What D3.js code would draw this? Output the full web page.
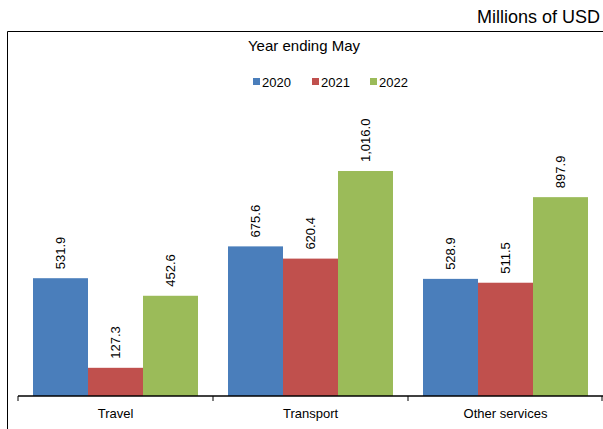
<!DOCTYPE html>
<html><head><meta charset="utf-8">
<script src="https://cdn.jsdelivr.net/npm/d3@7"></script>
<style>body{margin:0;background:#fff}text{font-family:"Liberation Sans",Arial,sans-serif}</style>
</head><body>
<svg id="chart" width="603" height="429"></svg>
<script>
var categories = ['Travel', 'Transport', 'Other services'];
var years = ['2020', '2021', '2022'];
var colors = ['#4a7ebb', '#c0504d', '#9bbb59'];
var v2020 = [531.9, 675.6, 528.9];
var v2021 = [127.3, 620.4, 511.5];
var v2022 = [452.6, 1016.0, 897.9];
var series = [v2020, v2021, v2022];

var svg = d3.select('#chart');
svg.append('text').attr('x', 600).attr('y', 23).attr('text-anchor', 'end')
    .style('font-size', '18px').text('Millions of USD');
svg.append('path').attr('d', 'M7.5,429V31.5H603').attr('fill', 'none').attr('stroke', '#000');
svg.append('text').attr('x', 304).attr('y', 51).attr('text-anchor', 'middle')
    .style('font-size', '15px').text('Year ending May');

var lx = [253, 312, 370];
years.forEach(function(y, i) {
    svg.append('rect').attr('x', lx[i]).attr('y', 78).attr('width', 7).attr('height', 7).attr('fill', colors[i]);
    svg.append('text').attr('x', lx[i] + 9).attr('y', 86.5).style('font-size', '13px').text(y);
});

var x = d3.scaleBand().domain(categories).range([18, 603]);
var xi = d3.scaleBand().domain(years).range([15, 180]);
var y = d3.scaleLinear().domain([0, 1016]).range([396, 171]);

var fmt = d3.format(',.1f');
categories.forEach(function(c, ci) {
    years.forEach(function(yr, si) {
        var v = series[si][ci];
        var bx = x(c) + xi(yr);
        svg.append('rect').attr('x', bx).attr('y', y(v)).attr('width', xi.bandwidth())
            .attr('height', y(0) - y(v)).attr('fill', colors[si]);
        var cx = bx + xi.bandwidth() / 2 + 4.5, cy = y(v) - 9;
        svg.append('text').attr('transform', 'translate(' + cx + ',' + cy + ') rotate(-90)')
            .style('font-size', '13px').text(fmt(v));
    });
});

var ax = svg.append('g').attr('transform', 'translate(0,396)');
ax.append('line').attr('x1', 18).attr('x2', 603).attr('stroke', '#000').attr('stroke-width', 1.5);
[18, 213, 408, 602].forEach(function(t) {
    ax.append('line').attr('x1', t).attr('x2', t).attr('y1', 0).attr('y2', 5).attr('stroke', '#000');
});
categories.forEach(function(c) {
    ax.append('text').attr('x', x(c) + x.bandwidth() / 2).attr('y', 22).attr('text-anchor', 'middle')
        .style('font-size', '13px').text(c);
});
</script>
</body></html>
